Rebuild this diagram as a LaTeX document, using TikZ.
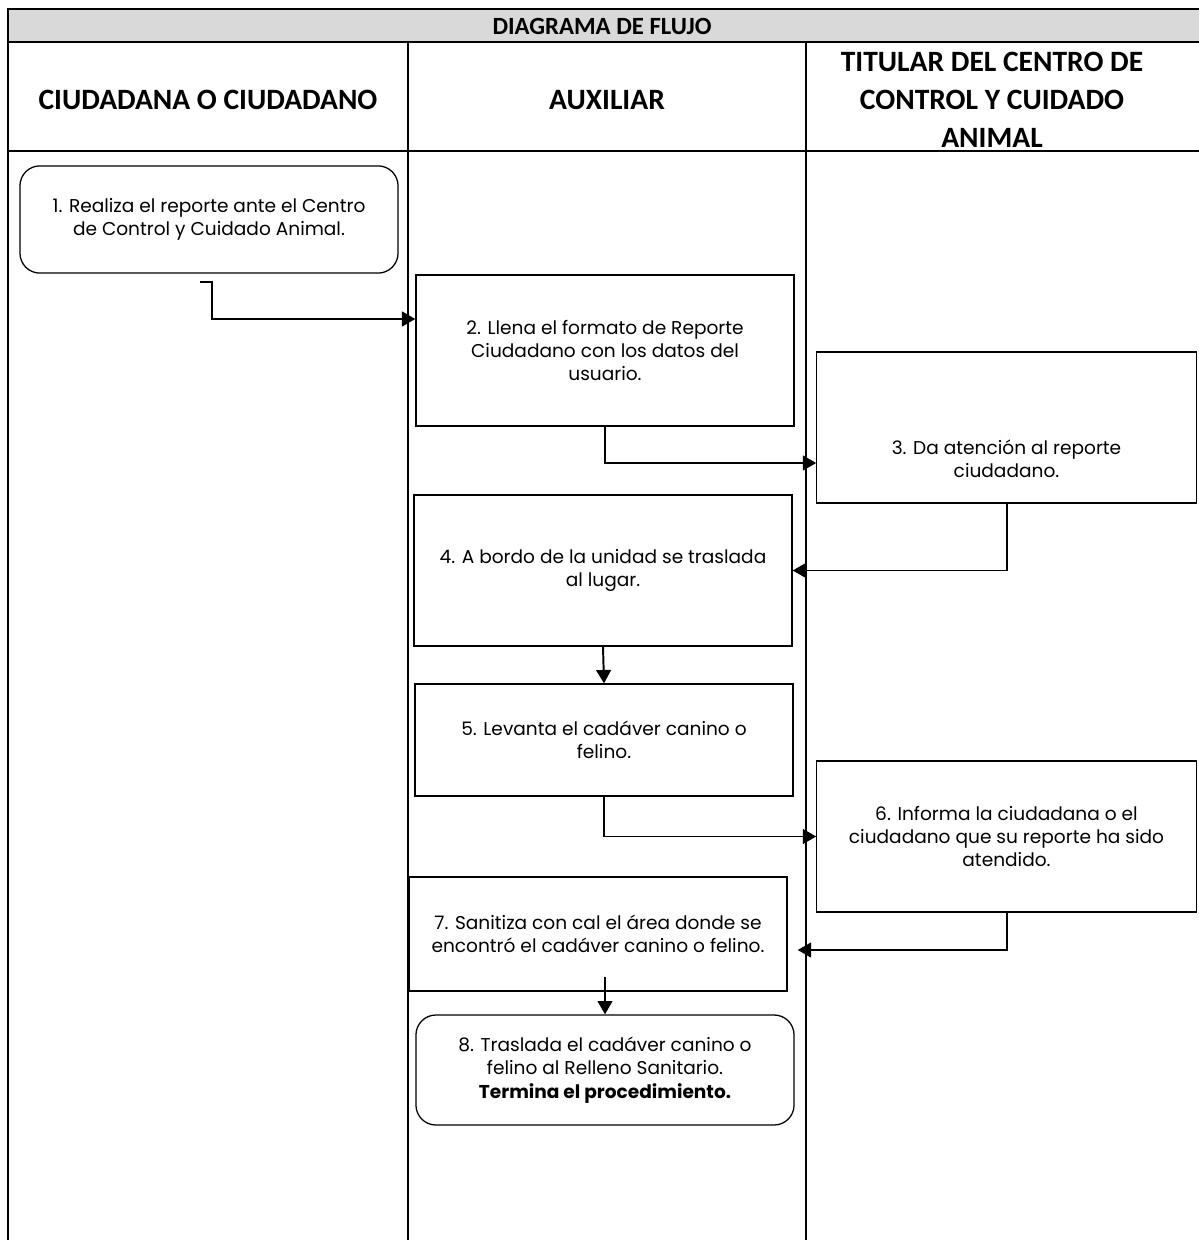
\documentclass[tikz,border=0pt]{standalone}
\usepackage{fontspec}
\setmainfont{Poppins}
\newfontfamily\hdfont{Carlito}
\usetikzlibrary{arrows.meta,calc}
\definecolor{encabezado}{HTML}{D9D9D9}

\begin{document}
\begin{tikzpicture}[x=0.025cm,y=-0.025cm,
   lane/.style={line width=1.8pt},
   box/.style={draw,line width=0.9pt,align=center,inner sep=0pt,
      font=\fontsize{13.2}{16.5}\selectfont},
   rbox/.style={box,rounded corners=0.5cm},
   head/.style={align=center,font=\hdfont\bfseries\fontsize{21}{27}\selectfont},
   flow/.style={line width=1.4pt,-{Triangle[length=9.5pt,width=10.5pt]}}]
   \useasboundingbox (0,0) rectangle (1198,1240);
   % encabezado y carriles
   \fill[encabezado] (8,9) rectangle (1210,42);
   \draw[lane] (8,1250) -- (8,9) -- (1210,9);
   \draw[lane] (8,42) -- (1210,42);
   \draw[lane] (8,151) -- (1210,151);
   \draw[lane] (408,42) -- (408,1250);
   \draw[lane] (806,42) -- (806,1250);
   \node[head,font=\hdfont\bfseries\fontsize{17.6}{20}\selectfont] (titulo) at (602,26) {DIAGRAMA DE FLUJO};
   \node[head] (ciudadano) at (208,100) {CIUDADANA O CIUDADANO};
   \node[head] (auxiliar) at (607,100) {AUXILIAR};
   \node[head] (titular) at (992,100) {TITULAR DEL CENTRO DE\\CONTROL Y CUIDADO\\ANIMAL};
   % actividades
   \node[rbox,minimum width=9.45cm,minimum height=2.68cm] (n1) at (209,219.5)
      {1. Realiza el reporte ante el Centro\\de Control y Cuidado Animal.};
   \node[box,minimum width=9.45cm,minimum height=3.78cm] (n2) at (605,350.5)
      {2. Llena el formato de Reporte\\Ciudadano con los datos del\\usuario.};
   \node[box,minimum width=9.48cm,minimum height=3.78cm,
      label={[font=\fontsize{13.2}{16.5}\selectfont,align=center,yshift=-0.78cm]center:3. Da atención al reporte\\ciudadano.}]
      (n3) at (1006.5,427.5) {};
   \node[box,minimum width=9.45cm,minimum height=3.78cm] (n4) at (603,570.5)
      {4. A bordo de la unidad se traslada\\al lugar.};
   \node[box,minimum width=9.45cm,minimum height=2.8cm] (n5) at (604,740)
      {5. Levanta el cadáver canino o\\felino.};
   \node[box,minimum width=9.48cm,minimum height=3.78cm] (n6) at (1006.5,836.5)
      {6. Informa la ciudadana o el\\ciudadano que su reporte ha sido\\atendido.};
   \node[box,minimum width=9.45cm,minimum height=2.85cm] (n7) at (598,934)
      {7. Sanitiza con cal el área donde se\\encontró el cadáver canino o felino.};
   \node[rbox,minimum width=9.45cm,minimum height=2.75cm] (n8) at (605,1070)
      {8. Traslada el cadáver canino o\\felino al Relleno Sanitario.\\\textbf{Termina el procedimiento.}};
   % conectores
   \coordinate (c1) at ($(n1.south)+(-9,8)$);
   \draw[flow] (c1) -- ++(12,0) |- (n2.west |- 0,319);
   \draw[flow] (n2.south) |- (n3.west |- 0,463);
   \draw[flow] (n3.south) |- (n4.east);
   \draw[flow] (n4.south) -- (n5.north);
   \draw[flow] (n5.south) |- (n6.west);
   \draw[flow] (n6.south) |- ($(n7.east)+(10,16)$);
   \draw[flow] ($(n8.north |- n7.south)+(0,-15)$) -- (n8.north);
\end{tikzpicture}
\end{document}
